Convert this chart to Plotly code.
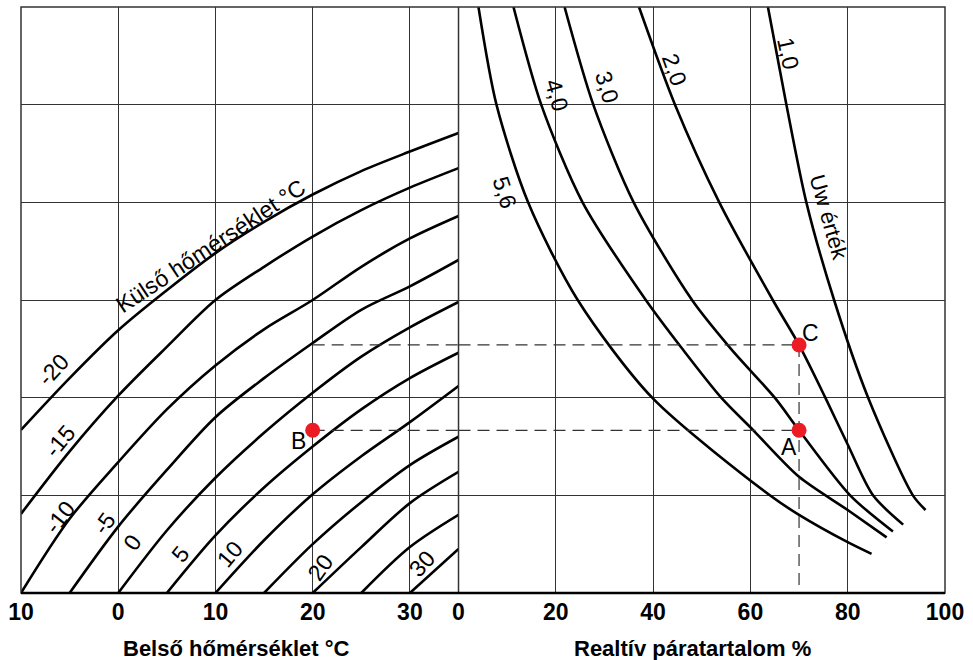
import plotly.graph_objects as go

# ---------------- data ----------------
# Left panel: interior temperature (x) vs. family of exterior-temperature curves
ext_temps = [-20, -15, -10, -5, 0, 5, 10, 15, 20, 25, 30]
ext_curve_x = [
    [-10, -5, 0, 5, 10, 15, 20, 25, 30, 35],
    [-10, -5, 0, 5, 10, 15, 20, 25, 30, 35],
    [-10, -5, 0, 5, 10, 15, 20, 25, 30, 35],
    [-5, 0, 5, 10, 15, 20, 25, 30, 35],
    [0, 5, 10, 15, 20, 25, 30, 35],
    [5, 10, 15, 20, 25, 30, 35],
    [10, 15, 20, 25, 30, 35],
    [15, 20, 25, 30, 35],
    [20, 25, 30, 35],
    [25, 30, 35],
    [30, 35],
]
ext_curve_y = [
    [1.67, 2.20, 2.69, 3.10, 3.48, 3.80, 4.08, 4.32, 4.52, 4.71],
    [0.81, 1.45, 2.02, 2.52, 3.00, 3.34, 3.65, 3.92, 4.15, 4.35],
    [0.00, 0.76, 1.34, 1.88, 2.33, 2.70, 3.00, 3.34, 3.63, 3.86],
    [0.00, 0.68, 1.26, 1.80, 2.20, 2.56, 2.90, 3.14, 3.41],
    [0.00, 0.64, 1.18, 1.64, 2.05, 2.42, 2.72, 2.98],
    [0.00, 0.59, 1.08, 1.50, 1.88, 2.20, 2.46],
    [0.00, 0.54, 1.01, 1.40, 1.75, 2.12],
    [0.00, 0.50, 0.93, 1.31, 1.60],
    [0.00, 0.47, 0.92, 1.24],
    [0.00, 0.47, 0.80],
    [0.00, 0.45],
]
ext_labels = ["-20", "-15", "-10", "-5", "0", "5", "10", "20", "30"]
ext_label_x = [-6.7, -6.0, -6.0, -1.5, 1.5, 6.4, 11.5, 20.8, 31.2]
ext_label_y = [2.28, 1.56, 0.78, 0.71, 0.52, 0.40, 0.40, 0.27, 0.30]
ext_label_angle = [-47, -50, -52, -54, -55, -52, -50, -55, -48]

# Right panel: relative humidity (x) vs. Uw value curves
uw_values = ["5,6", "4,0", "3,0", "2,0", "1,0"]
uw_curve_x = [
    [4.1, 7.8, 14.3, 24.5, 39.8, 64.0, 70.0, 80.0, 84.9],
    [11.3, 17.0, 25.5, 38.5, 46.0, 54.0, 60.6, 70.0, 80.0, 88.0],
    [21.8, 27.7, 36.0, 48.0, 56.0, 65.0, 70.0, 80.5, 89.3],
    [37.1, 44.5, 53.6, 64.6, 70.0, 75.4, 80.0, 85.2, 91.4],
    [63.6, 67.4, 71.5, 77.2, 84.2, 93.4, 96.0],
]
uw_curve_y = [
    [6.0, 5.0, 4.0, 3.0, 2.0, 1.0, 0.80, 0.52, 0.40],
    [6.0, 5.0, 4.0, 3.0, 2.5, 2.0, 1.666, 1.19, 0.85, 0.57],
    [6.0, 5.0, 4.0, 3.0, 2.5, 2.0, 1.666, 1.0, 0.63],
    [6.0, 5.0, 4.0, 3.0, 2.54, 2.0, 1.52, 1.0, 0.70],
    [6.0, 5.0, 4.0, 3.0, 2.0, 1.0, 0.85],
]
uw_label_x = [9.6, 20.2, 30.5, 44.5, 67.8]
uw_label_y = [4.1, 5.1, 5.18, 5.36, 5.52]
uw_label_angle = [72, 74, 73, 70, 78]

# Example points
pt_B = (20, 1.666)          # left panel (interior temp, y)
pt_A = (70, 1.666)          # right panel (RH, y)
pt_C = (70, 2.54)           # right panel (RH, y)

left_ticks = [-10, 0, 10, 20, 30]
left_tick_text = ["10", "0", "10", "20", "30"]
right_ticks = [0, 20, 40, 60, 80, 100]
right_tick_text = ["0", "20", "40", "60", "80", "100"]

# ---------------- figure ----------------
W, H = 973, 660
ML, MR, MT, MB = 21, 28, 7, 67
split = 0.4735
GRID = "#333333"
LBL_FONT = "Liberation Sans, Arial, sans-serif"
TICK_FONT = "Liberation Sans, Arial, sans-serif"

fig = go.Figure()

for xs, ys in zip(ext_curve_x, ext_curve_y):
    fig.add_trace(go.Scatter(x=xs, y=ys, mode="lines", xaxis="x", yaxis="y",
                             line=dict(color="black", width=2.6, shape="spline", smoothing=0.9),
                             hoverinfo="skip", showlegend=False))
for xs, ys in zip(uw_curve_x, uw_curve_y):
    fig.add_trace(go.Scatter(x=xs, y=ys, mode="lines", xaxis="x2", yaxis="y2",
                             line=dict(color="black", width=2.6, shape="spline", smoothing=0.8),
                             hoverinfo="skip", showlegend=False))

dash = dict(color="#333333", width=1.2, dash="12px,7px")
for yv in (pt_B[1], pt_C[1]):
    fig.add_trace(go.Scatter(x=[pt_B[0], 35], y=[yv, yv], mode="lines", xaxis="x", yaxis="y",
                             line=dash, hoverinfo="skip", showlegend=False))
    fig.add_trace(go.Scatter(x=[0, pt_A[0]], y=[yv, yv], mode="lines", xaxis="x2", yaxis="y2",
                             line=dash, hoverinfo="skip", showlegend=False))
fig.add_trace(go.Scatter(x=[pt_C[0], pt_C[0]], y=[pt_C[1], 0], mode="lines", xaxis="x2", yaxis="y2",
                         line=dash, hoverinfo="skip", showlegend=False))

RED = "#ec1c24"
fig.add_trace(go.Scatter(x=[pt_B[0]], y=[pt_B[1]], mode="markers", xaxis="x", yaxis="y",
                         marker=dict(color=RED, size=15), showlegend=False))
fig.add_trace(go.Scatter(x=[pt_A[0], pt_C[0]], y=[pt_A[1], pt_C[1]], mode="markers",
                         xaxis="x2", yaxis="y2", marker=dict(color=RED, size=15), showlegend=False))

annotations = []
for t, x, y, a in zip(ext_labels, ext_label_x, ext_label_y, ext_label_angle):
    annotations.append(dict(text=t, x=x, y=y, xref="x", yref="y", showarrow=False,
                            textangle=a, font=dict(family=LBL_FONT, size=23, color="black")))
annotations.append(dict(text="Külső hőmérséklet °C", x=9.5, y=3.55, xref="x", yref="y",
                        showarrow=False, textangle=-33.5,
                        font=dict(family=LBL_FONT, size=23, color="black")))
for t, x, y, a in zip(uw_values, uw_label_x, uw_label_y, uw_label_angle):
    annotations.append(dict(text=t, x=x, y=y, xref="x2", yref="y2", showarrow=False,
                            textangle=a, font=dict(family=LBL_FONT, size=23, color="black")))
annotations.append(dict(text="Uw érték", x=76.0, y=3.84, xref="x2", yref="y2",
                        showarrow=False, textangle=74,
                        font=dict(family=LBL_FONT, size=22, color="black")))
annotations.append(dict(text="B", x=18.5, y=1.555, xref="x", yref="y", showarrow=False,
                        font=dict(family=LBL_FONT, size=23, color="black")))
annotations.append(dict(text="A", x=67.9, y=1.50, xref="x2", yref="y2", showarrow=False,
                        font=dict(family=LBL_FONT, size=23, color="black")))
annotations.append(dict(text="C", x=72.3, y=2.66, xref="x2", yref="y2", showarrow=False,
                        font=dict(family=LBL_FONT, size=23, color="black")))
pw = W - ML - MR
ph = H - MT - MB
annotations.append(dict(text="<b>Belső hőmérséklet °C</b>", x=(236 - ML) / pw, y=(H - MB - 648) / ph,
                        xref="paper", yref="paper", showarrow=False, xanchor="center", yanchor="middle",
                        font=dict(family=LBL_FONT, size=22, color="black")))
annotations.append(dict(text="<b>Realtív páratartalom %</b>", x=(692 - ML) / pw, y=(H - MB - 648) / ph,
                        xref="paper", yref="paper", showarrow=False, xanchor="center", yanchor="middle",
                        font=dict(family=LBL_FONT, size=22, color="black")))

axis_common = dict(showgrid=True, gridcolor=GRID, gridwidth=1.2, zeroline=False,
                   ticks="", showline=False, ticklabelstandoff=3,
                   tickfont=dict(family=TICK_FONT, size=23, color="black", weight="bold"))

fig.update_layout(
    width=W, height=H, margin=dict(l=ML, r=MR, t=MT, b=MB),
    paper_bgcolor="white", plot_bgcolor="white",
    showlegend=False,
    xaxis=dict(domain=[0, split], range=[-10, 35], tickvals=left_ticks, ticktext=left_tick_text,
               anchor="y", **axis_common),
    xaxis2=dict(domain=[split, 1], range=[0, 100], tickvals=right_ticks, ticktext=right_tick_text,
                anchor="y2", **axis_common),
    yaxis=dict(domain=[0, 1], range=[0, 6], dtick=1, showticklabels=False, anchor="x",
               showgrid=True, gridcolor=GRID, gridwidth=1.2, zeroline=False),
    yaxis2=dict(domain=[0, 1], range=[0, 6], dtick=1, showticklabels=False, anchor="x2",
                showgrid=True, gridcolor=GRID, gridwidth=1.2, zeroline=False),
    annotations=annotations,
    shapes=[
        dict(type="rect", xref="paper", yref="paper", x0=0, x1=1, y0=0, y1=1,
             line=dict(color=GRID, width=1.5)),
        dict(type="line", xref="paper", yref="paper", x0=split, x1=split, y0=0, y1=1,
             line=dict(color=GRID, width=1.5)),
        dict(type="line", xref="paper", yref="paper", x0=0, x1=1, y0=0, y1=0,
             line=dict(color="black", width=2.5)),
    ],
)

fig.write_html("out.html")
